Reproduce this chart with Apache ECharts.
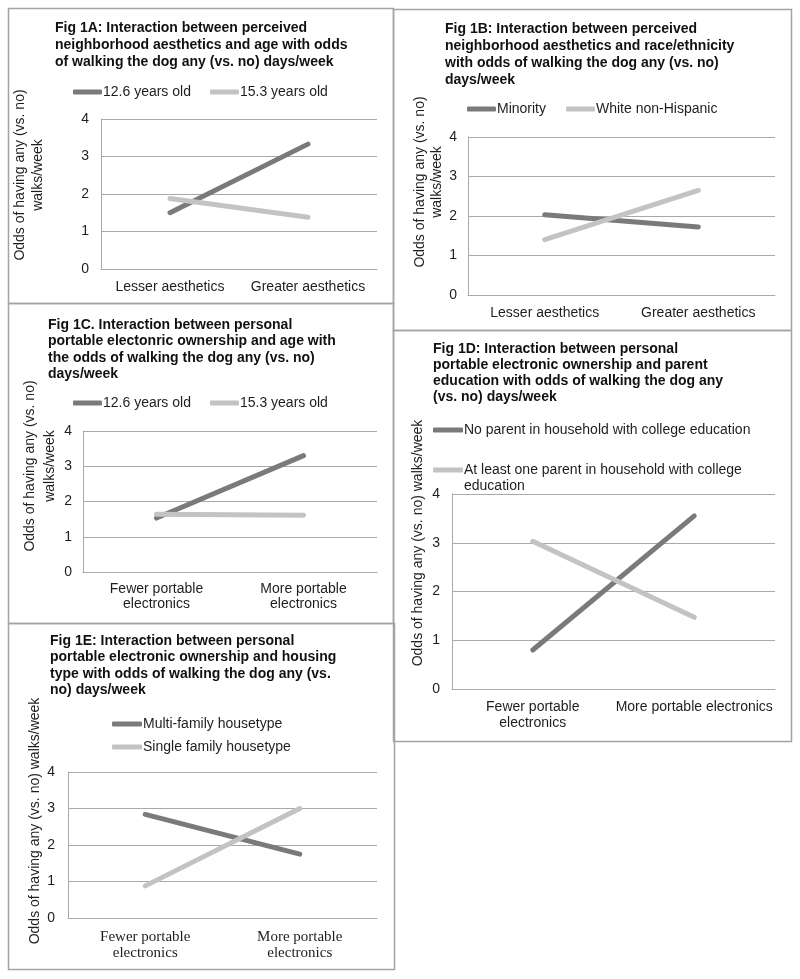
<!DOCTYPE html>
<html>
<head>
<meta charset="utf-8">
<script src="https://cdn.jsdelivr.net/npm/echarts@6/dist/echarts.min.js"></script>
<style>
  html, body { margin: 0; padding: 0; background: #ffffff; }
  #chart { width: 800px; height: 979px; }
</style>
</head>
<body>
<div id="chart"></div>
<script>
// ---------- data ----------
const catsAesthetics = ['Lesser aesthetics', 'Greater aesthetics'];
const catsElectronicsWrapped = ['Fewer portable\nelectronics', 'More portable\nelectronics'];
const catsElectronicsD = ['Fewer portable\nelectronics', 'More portable electronics'];

const seriesNamesA = ['12.6 years old', '15.3 years old'];
const age126A = [1.5, 3.33];
const age153A = [1.88, 1.38];

const seriesNamesB = ['Minority', 'White non-Hispanic'];
const minorityB = [2.03, 1.72];
const whiteB = [1.4, 2.65];

const seriesNamesC = ['12.6 years old', '15.3 years old'];
const age126C = [1.53, 3.3];
const age153C = [1.64, 1.61];

const seriesNamesD = ['No parent in household with college education', 'At least one parent in household with college\neducation'];
const noCollegeD = [0.8, 3.55];
const collegeD = [3.03, 1.47];

const seriesNamesE = ['Multi-family housetype', 'Single family housetype'];
const multiE = [2.84, 1.75];
const singleE = [0.88, 3.0];

const yMin = 0, yMax = 4, yStep = 1;

const titlesText = [
  'Fig 1A: Interaction between perceived\nneighborhood aesthetics and age with odds\nof walking the dog any (vs. no) days/week',
  'Fig 1B: Interaction between perceived\nneighborhood aesthetics and race/ethnicity\nwith odds of walking the dog any (vs. no)\ndays/week',
  'Fig 1C. Interaction between personal\nportable electonric ownership and age with\nthe odds of walking the dog any (vs. no)\ndays/week',
  'Fig 1D: Interaction between personal\nportable electronic ownership and parent\neducation with odds of walking the dog any\n(vs. no) days/week',
  'Fig 1E: Interaction between personal\nportable electronic ownership and housing\ntype with odds of walking the dog any (vs.\nno) days/week'
];
const yNameTwoLine = 'Odds of having any (vs. no)\nwalks/week';
const yNameOneLine = 'Odds of having any (vs. no) walks/week';

// ---------- styling ----------
const DARK = '#7a7a7a';
const LIGHT = '#c3c3c3';
const GRID = '#a9a9a9';
const FONT = 'Liberation Sans, Arial, sans-serif';
const TXT = '#1e1e1e';

// panel layout (grid boxes)
const panels = [
  { left: 101, top: 119, width: 276, height: 150, tickMargin: 12, xMargin: 10, nameGap: 54, nameShift: 38, nameLH: 18, yName: yNameTwoLine, cats: catsAesthetics, serif: false, xLH: 16 },
  { left: 468, top: 137, width: 307, height: 158, tickMargin: 11, xMargin: 10, nameGap: 21, nameShift: 68, nameLH: 17, yName: yNameTwoLine, cats: catsAesthetics, serif: false, xLH: 16 },
  { left: 83,  top: 431, width: 294, height: 141, tickMargin: 11, xMargin: 10, nameGap: 19, nameShift: 71, nameLH: 20, yName: yNameTwoLine, cats: catsElectronicsWrapped, serif: false, xLH: 15 },
  { left: 452, top: 494, width: 323, height: 195, tickMargin: 12, xMargin: 10, nameGap: 26, nameShift: 97, nameLH: 16, yName: yNameOneLine, cats: catsElectronicsD, serif: false, xLH: 16 },
  { left: 68,  top: 772, width: 309, height: 146, tickMargin: 13, xMargin: 11, nameGap: 25, nameShift: 48, nameLH: 16, yName: yNameOneLine, cats: catsElectronicsWrapped, serif: true, xLH: 16 }
];

const titlePos = [
  { left: 55, top: 19.5, lh: 17 },
  { left: 445, top: 20.5, lh: 17 },
  { left: 48, top: 317, lh: 16.4 },
  { left: 433, top: 341, lh: 16 },
  { left: 50, top: 633, lh: 16.4 }
];

const grids = panels.map(p => ({
  left: p.left, top: p.top, width: p.width, height: p.height,
  containLabel: false, outerBoundsMode: 'none'
}));

const xAxes = panels.map((p, i) => ({
  type: 'category',
  gridIndex: i,
  data: p.cats,
  boundaryGap: true,
  axisLine: { show: true, lineStyle: { color: GRID, width: 1 } },
  axisTick: { show: false },
  axisLabel: {
    margin: p.xMargin,
    interval: 0,
    color: TXT,
    fontSize: p.serif ? 15 : 14,
    fontFamily: p.serif ? 'Liberation Serif, Times New Roman, serif' : FONT,
    lineHeight: p.xLH
  },
  splitLine: { show: false }
}));

const yAxes = panels.map((p, i) => ({
  type: 'value',
  gridIndex: i,
  min: yMin, max: yMax, interval: yStep,
  axisLine: { show: true, lineStyle: { color: GRID, width: 1 } },
  axisTick: { show: false },
  axisLabel: { margin: p.tickMargin, color: TXT, fontSize: 14, fontFamily: FONT },
  splitLine: { show: true, lineStyle: { color: GRID, width: 1 } },
  name: p.yName,
  nameLocation: 'middle',
  nameGap: p.nameGap,
  nameTextStyle: {
    color: TXT, fontSize: 14, fontFamily: FONT, lineHeight: p.nameLH,
    padding: [0, 0, 0, p.nameShift]
  }
}));

function lineSeries(name, data, color, idx) {
  return {
    type: 'line',
    name: name,
    data: data,
    xAxisIndex: idx,
    yAxisIndex: idx,
    showSymbol: false,
    symbol: 'none',
    silent: true,
    animation: false,
    color: color,
    lineStyle: { color: color, width: 5, cap: 'round' },
    itemStyle: { color: color }
  };
}

const series = [
  lineSeries(seriesNamesA[0], age126A, DARK, 0),
  lineSeries(seriesNamesA[1], age153A, LIGHT, 0),
  lineSeries(seriesNamesB[0], minorityB, DARK, 1),
  lineSeries(seriesNamesB[1], whiteB, LIGHT, 1),
  lineSeries(seriesNamesC[0], age126C, DARK, 2),
  lineSeries(seriesNamesC[1], age153C, LIGHT, 2),
  lineSeries(seriesNamesD[0], noCollegeD, DARK, 3),
  lineSeries(seriesNamesD[1], collegeD, LIGHT, 3),
  lineSeries(seriesNamesE[0], multiE, DARK, 4),
  lineSeries(seriesNamesE[1], singleE, LIGHT, 4)
];

const legendBase = {
  padding: 0,
  icon: 'roundRect',
  itemWidth: 29,
  itemHeight: 5,
  selectedMode: false,
  textStyle: { color: TXT, fontSize: 14, fontFamily: FONT, padding: [0, 0, 0, -4] }
};

const legends = [
  Object.assign({}, legendBase, { orient: 'horizontal', left: 73, top: 85, itemGap: 19, data: seriesNamesA }),
  Object.assign({}, legendBase, { orient: 'horizontal', left: 467, top: 102, itemGap: 20, data: seriesNamesB }),
  Object.assign({}, legendBase, { orient: 'horizontal', left: 73, top: 396, itemGap: 19, data: seriesNamesC }),
  Object.assign({}, legendBase, { orient: 'horizontal', left: 433, top: 423, itemWidth: 30, data: [seriesNamesD[0]] }),
  Object.assign({}, legendBase, { orient: 'horizontal', left: 433, top: 446, itemWidth: 30,
    // leading empty line keeps the first text line level with the legend line, as in the original
    formatter: function (name) { return '\n' + name; },
    textStyle: { color: TXT, fontSize: 14, fontFamily: FONT, lineHeight: 16, padding: [0, 0, 0, -4] },
    data: [seriesNamesD[1]] }),
  Object.assign({}, legendBase, { orient: 'vertical', left: 112, top: 717, itemWidth: 30, itemGap: 9, data: seriesNamesE })
];

const titles = titlesText.map((t, i) => ({
  text: t,
  left: titlePos[i].left,
  top: titlePos[i].top,
  padding: 0,
  textStyle: { color: '#111', fontSize: 14, fontWeight: 'bold', fontFamily: FONT, lineHeight: titlePos[i].lh }
}));

// panel frames
const BORDER = '#a3a3a3';
function frame(x1, y1, x2, y2) {
  return { type: 'rect', silent: true, shape: { x: x1, y: y1, width: x2 - x1, height: y2 - y1 },
           style: { fill: 'none', stroke: BORDER, lineWidth: 1.5 } };
}
const graphics = [
  frame(8.5, 8.5, 393.5, 303.5),
  frame(393.5, 9.5, 791.5, 330.5),
  frame(8.5, 303.5, 393.5, 623.5),
  frame(393.5, 330.5, 791.5, 741.5),
  frame(8.5, 623.5, 394.5, 969.5)
];

const chart = echarts.init(document.getElementById('chart'), null, { renderer: 'canvas' });
chart.setOption({
  backgroundColor: '#ffffff',
  animation: false,
  title: titles,
  legend: legends,
  grid: grids,
  xAxis: xAxes,
  yAxis: yAxes,
  series: series,
  graphic: graphics
});
</script>
</body>
</html>
